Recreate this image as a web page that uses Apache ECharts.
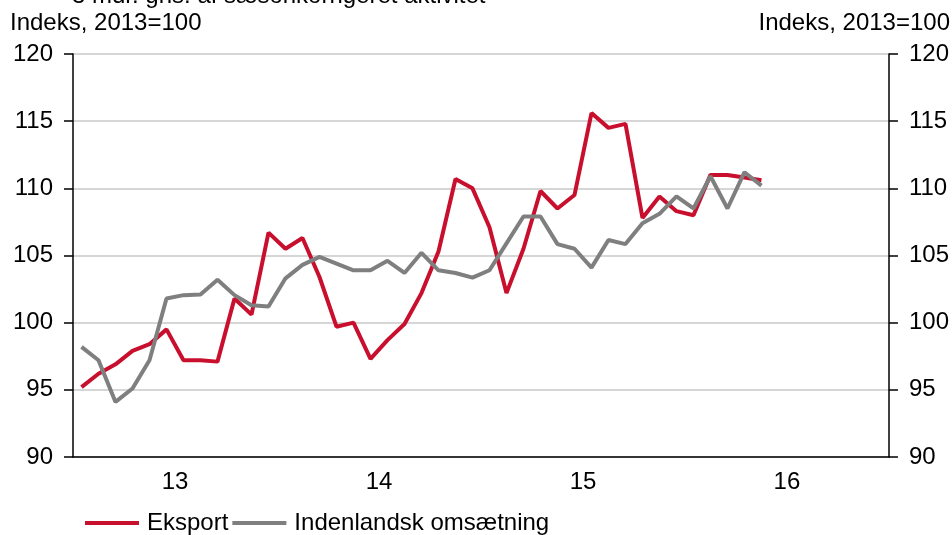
<!DOCTYPE html>
<html>
<head>
<meta charset="utf-8">
<script src="https://cdn.jsdelivr.net/npm/echarts@6/dist/echarts.min.js"></script>
<style>
  html, body { margin: 0; padding: 0; background: #fff; }
  #chart { width: 952px; height: 535px; }
</style>
</head>
<body>
<div id="chart"></div>
<script>
const years = ["13", "14", "15", "16"];
const months = ["01", "02", "03", "04", "05", "06", "07", "08", "09", "10", "11", "12"];

// Jan 2013 - May 2016, monthly index (2013=100)
const eksport = [
  95.2, 96.2, 96.9, 97.9, 98.4, 99.5, 97.2, 97.2, 97.1, 101.8, 100.6, 106.7,
  105.5, 106.3, 103.4, 99.7, 100.0, 97.3, 98.7, 99.9, 102.2, 105.3, 110.7, 110.0,
  107.1, 102.2, 105.5, 109.8, 108.5, 109.5, 115.6, 114.5, 114.8, 107.8, 109.4, 108.3,
  108.0, 111.0, 111.0, 110.8, 110.6
];
const indenlandsk = [
  98.2, 97.2, 94.1, 95.1, 97.2, 101.8, 102.05, 102.1, 103.2, 102.05, 101.3, 101.2,
  103.3, 104.3, 104.9, 104.4, 103.9, 103.9, 104.6, 103.7, 105.2, 103.9, 103.7, 103.35,
  103.9, 105.9, 107.9, 107.9, 105.85, 105.5, 104.1, 106.15, 105.85, 107.4, 108.1, 109.4,
  108.5, 110.9, 108.5, 111.2, 110.2
];

const monthCats = [];
years.forEach((y) => months.forEach((m) => monthCats.push("20" + y + "-" + m)));

const font = "'Liberation Sans', Arial, sans-serif";
const red = "#c8102e";
const grey = "#7f7f7f";

const chart = echarts.init(document.getElementById("chart"), null, { renderer: "canvas" });

const yAxisBase = {
  type: "value",
  min: 90,
  max: 120,
  interval: 5,
  axisLine: { show: true, lineStyle: { color: "#000", width: 1.5 } },
  axisTick: { show: true, length: 9, lineStyle: { color: "#000", width: 1.5 } },
  axisLabel: { color: "#000", fontSize: 24, fontFamily: font, margin: 20 },
};

chart.setOption({
  animation: false,
  backgroundColor: "#fff",
  grid: { left: 73, right: 62, top: 54, bottom: 78, containLabel: false },
  graphic: [
    {
      type: "text", left: 72, top: -16,
      style: { text: "3 mdr. gns. af sæsonkorrigeret aktivitet", fontSize: 24, fontFamily: font, fill: "#000" },
    },
    {
      type: "text", left: 10, top: 11,
      style: { text: "Indeks, 2013=100", fontSize: 24, fontFamily: font, fill: "#000" },
    },
    {
      type: "text", right: 2, top: 11,
      style: { text: "Indeks, 2013=100", fontSize: 24, fontFamily: font, fill: "#000" },
    },
  ],
  legend: {
    left: 80,
    top: 506,
    icon: "rect",
    itemWidth: 54,
    itemHeight: 4,
    itemGap: 4,
    textStyle: { color: "#000", fontSize: 24, fontFamily: font, padding: [0, 0, 0, 3] },
    data: ["Eksport", "Indenlandsk omsætning"],
  },
  xAxis: [
    {
      type: "category",
      data: monthCats,
      boundaryGap: true,
      axisLine: { lineStyle: { color: "#000", width: 1.5 } },
      axisTick: {
        length: 9,
        interval: (i) => i % 12 === 0,
        lineStyle: { color: "#000", width: 1.5 },
      },
      axisLabel: { show: false },
    },
    {
      type: "category",
      data: years,
      position: "bottom",
      boundaryGap: true,
      axisLine: { show: false },
      axisTick: { show: false },
      axisLabel: { color: "#000", fontSize: 24, fontFamily: font, margin: 13 },
    },
  ],
  yAxis: [
    Object.assign({}, yAxisBase, {
      position: "left",
      splitLine: { show: true, lineStyle: { color: "#c8c8c8", width: 1.5 } },
    }),
    Object.assign({}, yAxisBase, {
      position: "right",
      splitLine: { show: false },
    }),
  ],
  series: [
    {
      name: "Eksport",
      type: "line",
      data: eksport,
      symbol: "none",
      color: red,
      lineStyle: { color: red, width: 4 },
    },
    {
      name: "Indenlandsk omsætning",
      type: "line",
      data: indenlandsk,
      symbol: "none",
      color: grey,
      lineStyle: { color: grey, width: 4 },
    },
  ],
});
</script>
</body>
</html>
